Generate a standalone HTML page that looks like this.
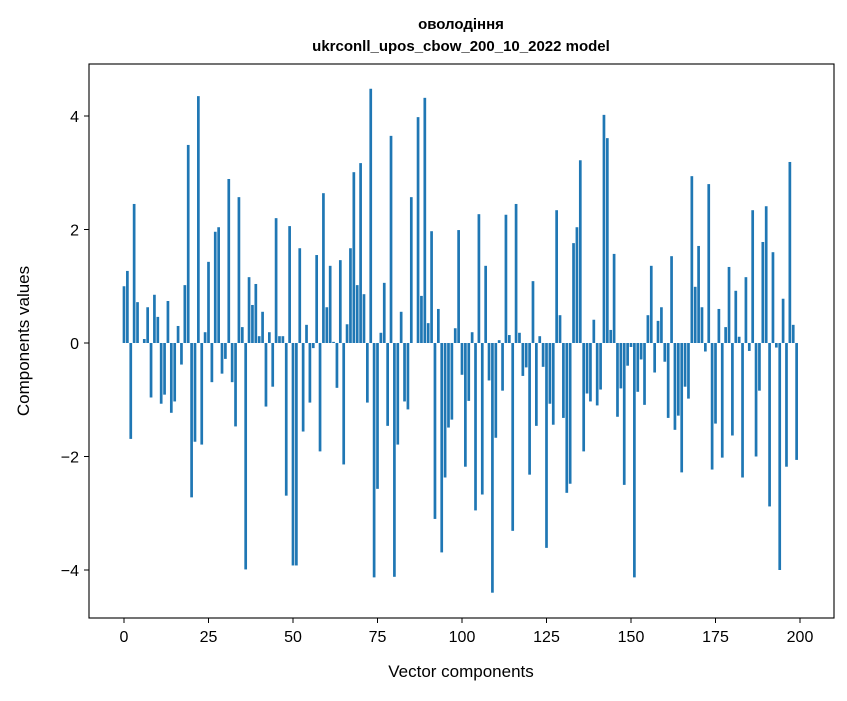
<!DOCTYPE html>
<html><head><meta charset="utf-8"><style>
body{margin:0;background:#fff;}
svg text{font-family:"Liberation Sans","DejaVu Sans",sans-serif;}
</style></head><body>
<svg id="chart" width="847" height="696" xmlns="http://www.w3.org/2000/svg">
<rect x="0" y="0" width="847" height="696" fill="#fff"/>
<text x="461" y="29" text-anchor="middle" font-size="15" font-weight="bold">оволодіння</text>
<text x="461" y="51" text-anchor="middle" font-size="15" font-weight="bold">ukrconll_upos_cbow_200_10_2022 model</text>
<g id="bars"></g>
<g id="axes"></g>
<rect x="89" y="64" width="745" height="554" fill="none" stroke="#000" stroke-width="1.1"/>
<text x="461" y="677" text-anchor="middle" font-size="17">Vector components</text>
<text x="0" y="0" transform="translate(29,341) rotate(-90)" text-anchor="middle" font-size="17">Components values</text>
</svg>
<script>
const values = [1.00,1.27,-1.69,2.45,0.72,0.00,0.07,0.63,-0.96,0.85,0.46,-1.07,-0.91,0.74,-1.23,-1.03,0.30,-0.38,1.02,3.49,-2.72,-1.74,4.35,-1.79,0.19,1.43,-0.69,1.96,2.04,-0.54,-0.28,2.89,-0.69,-1.47,2.57,0.28,-3.99,1.16,0.67,1.04,0.12,0.55,-1.12,0.19,-0.77,2.20,0.12,0.12,-2.69,2.06,-3.92,-3.92,1.67,-1.56,0.32,-1.05,-0.09,1.55,-1.91,2.64,0.63,1.36,0.02,-0.79,1.46,-2.14,0.33,1.67,3.01,1.02,3.17,0.86,-1.05,4.48,-4.13,-2.57,0.18,1.06,-1.46,3.65,-4.12,-1.79,0.55,-1.03,-1.17,2.57,0.00,3.98,0.83,4.32,0.35,1.97,-3.10,0.60,-3.69,-2.37,-1.49,-1.35,0.26,1.99,-0.56,-2.18,-1.02,0.19,-2.95,2.27,-2.67,1.36,-0.66,-4.40,-1.67,0.05,-0.84,2.26,0.14,-3.31,2.45,0.18,-0.58,-0.43,-2.32,1.09,-1.46,0.12,-0.42,-3.61,-1.07,-1.44,2.34,0.49,-1.32,-2.64,-2.48,1.76,2.04,3.22,-1.91,-0.89,-1.03,0.41,-1.10,-0.82,4.02,3.61,0.23,1.57,-1.30,-0.80,-2.50,-0.40,-0.07,-4.13,-0.86,-0.29,-1.09,0.49,1.36,-0.52,0.39,0.63,-0.33,-1.32,1.53,-1.53,-1.28,-2.28,-0.77,-0.98,2.94,0.99,1.71,0.63,-0.15,2.80,-2.23,-1.42,0.60,-2.02,0.28,1.34,-1.63,0.92,0.11,-2.37,1.16,-0.14,2.34,-2.00,-0.84,1.78,2.41,-2.88,1.60,-0.08,-4.00,0.78,-2.18,3.19,0.32,-2.06];
const xTicks = [0,25,50,75,100,125,150,175,200];
const yTicks = [-4,-2,0,2,4];
const yTickLabels = ["\u22124","\u22122","0","2","4"];
const NS="http://www.w3.org/2000/svg";
function xScale(v){return 124+v*3.38;}
function yScale(v){return 343-v*56.75;}
const bars=document.getElementById('bars');
values.forEach((v,i)=>{
  const r=document.createElementNS(NS,'rect');
  const w=0.8*3.38;
  r.setAttribute('x',xScale(i)-w/2);
  r.setAttribute('y',Math.min(yScale(v),yScale(0)));
  r.setAttribute('width',w);
  r.setAttribute('height',Math.abs(yScale(v)-yScale(0)));
  r.setAttribute('fill','#1f77b4');
  
  
  bars.appendChild(r);
});
const axes=document.getElementById('axes');
xTicks.forEach(t=>{
  const l=document.createElementNS(NS,'line');
  l.setAttribute('x1',xScale(t));l.setAttribute('x2',xScale(t));
  l.setAttribute('y1',618);l.setAttribute('y2',623);
  l.setAttribute('stroke','#000');
  
  
  axes.appendChild(l);
  const tx=document.createElementNS(NS,'text');
  tx.setAttribute('x',xScale(t));tx.setAttribute('y',642);
  tx.setAttribute('text-anchor','middle');tx.setAttribute('font-size','16');
  tx.textContent=t;
  
  
  axes.appendChild(tx);
});
yTicks.forEach((t,i)=>{
  const l=document.createElementNS(NS,'line');
  l.setAttribute('x1',84);l.setAttribute('x2',89);
  l.setAttribute('y1',yScale(t));l.setAttribute('y2',yScale(t));
  l.setAttribute('stroke','#000');
  
  
  axes.appendChild(l);
  const tx=document.createElementNS(NS,'text');
  tx.setAttribute('x',79);tx.setAttribute('y',yScale(t)+6);
  tx.setAttribute('text-anchor','end');tx.setAttribute('font-size','16');
  tx.textContent=yTickLabels[i];
  
  
  axes.appendChild(tx);
});
</script>
</body></html>
